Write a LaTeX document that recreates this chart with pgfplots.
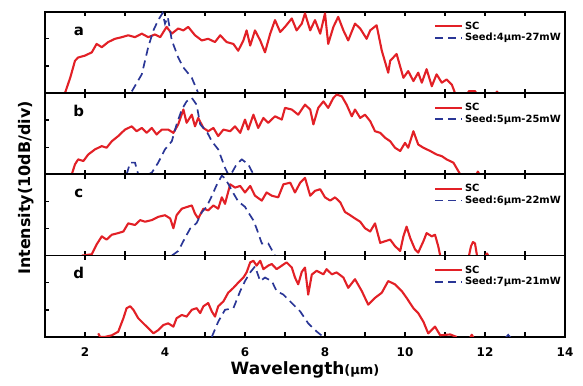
\documentclass[border=0pt]{standalone}
\usepackage{fontspec}
\setmainfont{DejaVu Sans}
\usepackage{graphicx}
\usepackage{pgfplots}
\pgfplotsset{compat=1.18}
\definecolor{scred}{RGB}{226,32,38}
\definecolor{seedblue}{RGB}{42,54,150}
\tikzset{lbl/.style={font=\fontsize{15}{17}\selectfont\bfseries, anchor=base}}
\pgfplotsset{
  panel/.style={
    width=520bp, height=81.3bp, scale only axis,
    xmin=1, xmax=14, ymin=0, ymax=3,
    xtick={2,4,...,14}, minor x tick num=1,
    ytick={1,2}, yticklabels={},
    ytick pos=left,
    tick align=inside,
    major tick length=4.5bp, minor tick length=4.5bp,
    axis line style={line width=1.7pt},
    tick style={black, line width=1.4pt},
    xticklabel style={font=\fontsize{12}{14}\selectfont\bfseries, yshift=-7bp},
    /pgf/number format/assume math mode=true,
    legend style={at={(0.742,0.925)}, anchor=north west, draw=none, fill=none,
      font=\fontsize{10}{12}\selectfont\bfseries, row sep=-1.5pt},
    legend cell align=left,
    legend image code/.code={\draw[#1] (0cm,0cm) -- (0.95cm,0cm);},
  },
  sc/.style={scred, line width=2.1pt, line join=round},
  seed/.style={seedblue, line width=1.7pt, dash pattern=on 8bp off 5bp},
}
\begin{document}
\bfseries
\begin{tikzpicture}
\path[use as bounding box] (-45bp,11.7bp) rectangle (538bp,-374.3bp);
% ---------------- panel a
\begin{axis}[panel, at={(0,0)}, anchor=north west, xticklabels={}]
\addplot[sc] coordinates {(1.5,0)(1.63,0.56)(1.75,1.19)(1.83,1.31)(2.0,1.38)(2.17,1.5)(2.29,1.81)(2.42,1.69)(2.58,1.88)(2.75,2.0)(2.92,2.06)(3.08,2.13)(3.25,2.06)(3.42,2.19)(3.58,2.06)(3.75,2.16)(3.88,2.06)(4.04,2.44)(4.17,2.19)(4.33,2.38)(4.46,2.31)(4.58,2.44)(4.75,2.13)(4.92,1.94)(5.08,2.0)(5.25,1.88)(5.38,2.13)(5.54,1.88)(5.71,1.81)(5.83,1.56)(5.96,1.94)(6.04,2.31)(6.13,1.75)(6.25,2.31)(6.38,1.94)(6.5,1.5)(6.63,2.19)(6.75,2.69)(6.88,2.25)(7.0,2.44)(7.17,2.75)(7.29,2.31)(7.42,2.56)(7.5,2.94)(7.63,2.31)(7.75,2.69)(7.88,2.19)(8.0,2.94)(8.08,1.81)(8.21,2.44)(8.33,2.81)(8.46,2.31)(8.58,1.94)(8.75,2.56)(8.88,2.38)(9.04,2.0)(9.13,2.31)(9.29,2.5)(9.42,1.56)(9.58,0.75)(9.63,1.19)(9.79,1.44)(9.96,0.56)(10.08,0.81)(10.21,0.44)(10.33,0.75)(10.42,0.38)(10.54,0.88)(10.67,0.25)(10.79,0.69)(10.92,0.38)(11.04,0.5)(11.17,0.31)(11.25,0)};
\addlegendentry{SC}
\addplot[seed] coordinates {(3.17,0.06)(3.42,0.69)(3.58,1.69)(3.71,2.31)(3.83,2.69)(3.94,2.95)(4.0,2.56)(4.07,2.8)(4.17,1.94)(4.25,1.63)(4.33,1.31)(4.46,0.94)(4.67,0.56)(4.83,0.0)};
\addlegendentry{Seed:4μm-27mW}
\addplot[sc, forget plot] coordinates {(11.55,-0.05)(11.6,0.07)(11.75,0.07)(11.8,-0.05)};
\addplot[sc, forget plot] coordinates {(12.25,-0.05)(12.3,0.05)(12.35,-0.05)};
\node[lbl] at (rel axis cs:0.065,0.713) {a};
\end{axis}
% ---------------- panel b
\begin{axis}[panel, at={(0,-81.3bp)}, anchor=north west, xticklabels={}]
\addplot[sc] coordinates {(1.67,0)(1.75,0.37)(1.83,0.55)(1.96,0.49)(2.08,0.73)(2.25,0.92)(2.42,1.04)(2.54,0.98)(2.67,1.22)(2.83,1.41)(3.0,1.65)(3.17,1.77)(3.29,1.59)(3.42,1.71)(3.54,1.53)(3.67,1.71)(3.79,1.47)(3.92,1.65)(4.08,1.65)(4.21,1.53)(4.33,1.84)(4.46,2.39)(4.54,1.90)(4.67,2.2)(4.75,1.77)(4.83,2.08)(4.96,1.71)(5.08,1.59)(5.21,1.71)(5.33,1.41)(5.46,1.65)(5.63,1.59)(5.75,1.77)(5.88,1.53)(6.0,2.02)(6.08,1.65)(6.21,2.2)(6.33,1.71)(6.46,2.08)(6.58,1.90)(6.75,2.14)(6.92,2.02)(7.0,2.45)(7.17,2.39)(7.33,2.2)(7.5,2.57)(7.63,2.39)(7.71,1.84)(7.83,2.45)(7.96,2.69)(8.08,2.45)(8.21,2.82)(8.29,2.94)(8.42,2.88)(8.54,2.57)(8.67,2.14)(8.75,2.39)(8.88,2.08)(9.0,2.2)(9.13,1.96)(9.25,1.59)(9.38,1.53)(9.5,1.35)(9.63,1.22)(9.75,0.98)(9.88,0.86)(10.0,1.16)(10.08,0.98)(10.21,1.59)(10.33,1.10)(10.46,0.98)(10.63,0.86)(10.79,0.73)(10.92,0.67)(11.04,0.55)(11.21,0.43)(11.38,0)};
\addlegendentry{SC}
\addplot[seed] coordinates {(3.04,0)(3.13,0.43)(3.25,0.43)(3.33,0.0)(3.5,-0.05)(3.67,0.06)(3.83,0.43)(4.0,0.92)(4.17,1.22)(4.29,1.84)(4.42,2.39)(4.54,2.69)(4.67,2.82)(4.79,2.57)(4.88,1.84)(5.04,1.59)(5.17,1.22)(5.33,0.92)(5.5,0.24)(5.58,0)(5.65,0)(5.79,0.37)(5.92,0.55)(6.08,0.37)(6.21,0)};
\addlegendentry{Seed:5μm-25mW}
\addplot[sc, forget plot] coordinates {(11.78,-0.05)(11.82,0.1)(11.88,-0.05)};
\node[lbl] at (rel axis cs:0.065,0.713) {b};
\end{axis}
% ---------------- panel c
\begin{axis}[panel, at={(0,-162.6bp)}, anchor=north west, xticklabels={}]
\addplot[sc] coordinates {(1.92,0)(2.17,0.05)(2.29,0.41)(2.42,0.71)(2.54,0.59)(2.67,0.77)(2.83,0.83)(2.96,0.89)(3.08,1.19)(3.25,1.13)(3.38,1.31)(3.5,1.25)(3.67,1.31)(3.83,1.43)(4.0,1.49)(4.13,1.37)(4.21,1.01)(4.29,1.49)(4.42,1.73)(4.54,1.79)(4.67,1.85)(4.75,1.55)(4.83,1.37)(4.96,1.73)(5.08,1.67)(5.21,1.85)(5.33,1.73)(5.42,2.15)(5.5,1.91)(5.63,2.63)(5.75,2.51)(5.88,2.57)(6.0,2.33)(6.13,2.57)(6.25,2.21)(6.42,2.03)(6.54,2.33)(6.67,2.21)(6.83,2.15)(6.96,2.63)(7.13,2.69)(7.25,2.33)(7.38,2.69)(7.5,2.87)(7.63,2.21)(7.75,2.39)(7.88,2.45)(8.0,2.15)(8.13,2.03)(8.25,2.15)(8.38,1.97)(8.5,1.61)(8.63,1.49)(8.75,1.37)(8.88,1.25)(9.0,1.01)(9.13,0.89)(9.25,1.19)(9.38,0.47)(9.5,0.53)(9.63,0.59)(9.75,0.35)(9.88,0.17)(9.96,0.71)(10.04,1.07)(10.13,0.65)(10.25,0.23)(10.33,0.11)(10.46,0.53)(10.54,0.83)(10.67,0.71)(10.75,0.77)(10.83,0.35)(10.88,0)};
\addlegendentry{SC}
\addplot[seed] coordinates {(4.17,0)(4.33,0.17)(4.5,0.65)(4.63,1.0)(4.79,1.2)(4.92,1.6)(5.04,1.8)(5.17,2.2)(5.29,2.6)(5.42,2.95)(5.5,2.85)(5.58,2.65)(5.67,2.4)(5.83,2.0)(6.0,1.8)(6.08,1.6)(6.21,1.3)(6.29,1.0)(6.42,0.45)(6.58,0.45)(6.75,0)};
\addlegendentry{Seed:6μm-22mW}
\addplot[sc, forget plot] coordinates {(11.6,0)(11.65,0.35)(11.7,0.5)(11.75,0.45)(11.8,0)};
\addplot[sc, forget plot] coordinates {(12.0,-0.05)(12.05,0.08)(12.1,-0.05)};
\node[lbl] at (rel axis cs:0.065,0.713) {c};
\end{axis}
% ---------------- panel d
\begin{axis}[panel, at={(0,-243.9bp)}, anchor=north west,
  xlabel={Wavelength{\fontsize{13}{15}\selectfont(μm)}},
  xlabel style={font=\fontsize{17}{19}\selectfont\bfseries, at={(axis description cs:0.5,0)}, anchor=north, yshift=-21bp}]
\addplot[sc] coordinates {(2.33,0.13)(2.38,0)(2.5,0)(2.67,0.06)(2.83,0.19)(2.96,0.69)(3.04,1.06)(3.13,1.13)(3.21,1.0)(3.33,0.69)(3.5,0.44)(3.63,0.25)(3.71,0.13)(3.83,0.25)(3.96,0.44)(4.08,0.5)(4.21,0.38)(4.29,0.69)(4.42,0.81)(4.54,0.75)(4.67,1.0)(4.79,1.06)(4.88,0.88)(4.96,1.13)(5.08,1.25)(5.17,0.94)(5.25,0.75)(5.33,1.13)(5.46,1.31)(5.58,1.63)(5.71,1.81)(5.83,2.0)(5.96,2.19)(6.04,2.38)(6.13,2.75)(6.21,2.81)(6.29,2.63)(6.38,2.81)(6.46,2.5)(6.58,2.63)(6.67,2.69)(6.79,2.5)(6.92,2.63)(7.04,2.75)(7.17,2.56)(7.25,2.19)(7.33,1.94)(7.42,2.4)(7.5,2.56)(7.58,1.56)(7.67,2.3)(7.79,2.44)(7.96,2.31)(8.04,2.5)(8.17,2.31)(8.29,2.38)(8.46,2.19)(8.58,1.81)(8.75,2.13)(8.92,1.69)(9.08,1.19)(9.25,1.44)(9.42,1.63)(9.58,2.06)(9.75,1.94)(9.92,1.69)(10.04,1.44)(10.21,1.06)(10.33,0.88)(10.46,0.56)(10.58,0.13)(10.75,0.38)(10.88,0.06)(11.13,0.09)(11.29,0)};
\addlegendentry{SC}
\addplot[seed] coordinates {(5.17,0)(5.33,0.56)(5.5,1.0)(5.71,1.06)(5.88,1.69)(6.0,2.06)(6.13,2.38)(6.25,2.6)(6.38,2.06)(6.5,2.19)(6.67,2.06)(6.79,1.69)(6.96,1.56)(7.17,1.25)(7.38,0.94)(7.58,0.5)(7.79,0.2)(7.96,0)};
\addlegendentry{Seed:7μm-21mW}
\addplot[sc, forget plot] coordinates {(11.62,-0.05)(11.67,0.08)(11.72,-0.05)};
\addplot[seedblue, line width=1.5pt, forget plot] coordinates {(12.5,-0.05)(12.58,0.08)(12.66,-0.05)};
\node[lbl] at (rel axis cs:0.065,0.713) {d};
\end{axis}
\node[rotate=90, font=\fontsize{16}{18}\selectfont\bfseries] at (-19bp,-176.3bp) {Intensity(10dB/div)};
\end{tikzpicture}
\end{document}
